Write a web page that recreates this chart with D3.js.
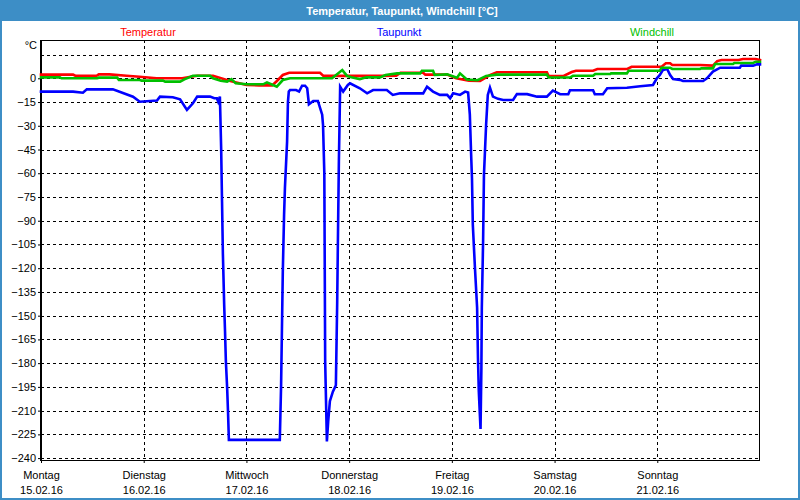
<!DOCTYPE html>
<html>
<head>
<meta charset="utf-8">
<script src="https://cdn.jsdelivr.net/npm/d3@7"></script>
<style>
  html, body { margin: 0; padding: 0; background: #fff; }
  svg { display: block; }
  text { font-family: "Liberation Sans", Arial, sans-serif; }
</style>
</head>
<body>
<svg id="chart" width="800" height="500"></svg>
<script>
// ---------------- data ----------------
const title = "Temperatur, Taupunkt, Windchill [°C]";
const seriesNames = ["Temperatur", "Taupunkt", "Windchill"];
const seriesColors = ["#ff0000", "#0000ff", "#00c000"];
const dayNames = ["Montag", "Dienstag", "Mittwoch", "Donnerstag", "Freitag", "Samstag", "Sonntag"];
const dayDates = ["15.02.16", "16.02.16", "17.02.16", "18.02.16", "19.02.16", "20.02.16", "21.02.16"];
const dayHours = [0, 24, 48, 72, 96, 120, 144];
const yTicks = [0, -15, -30, -45, -60, -75, -90, -105, -120, -135, -150, -165, -180, -195, -210, -225, -240];
const yGrid = [15, 0, -15, -30, -45, -60, -75, -90, -105, -120, -135, -150, -165, -180, -195, -210, -225, -240];

// hours since Monday 15.02.16 00:00
const tempHours = [0, 7.5, 8, 13, 13.5, 16, 20, 23, 27, 33, 35, 36.5, 40.2, 44, 48, 51, 54, 55, 56.5, 58, 65.2, 66, 79, 83, 84, 89.3, 89.8, 94.9, 97, 100, 102.6, 105, 106.5, 118.2, 118.6, 122, 124, 125, 129, 130, 137, 138, 145, 146, 147, 147.5, 154, 157, 158, 159, 163, 164, 167, 168];
const tempValues = [2.3, 2.3, 1.6, 1.6, 2.5, 2.5, 1.6, 1.0, 0, 0, 1.0, 1.6, 1.6, -1.5, -4.2, -4.5, -4.5, -2, 2.1, 3.5, 3.5, 1.5, 1.5, 1.6, 3.5, 3.5, 2.3, 2.3, 0, -1.5, -1.7, 2.1, 3.8, 3.8, 1.6, 1.4, 4.0, 4.8, 4.8, 5.9, 5.9, 7.3, 7.3, 9.5, 9.5, 8.4, 8.4, 8.0, 10.9, 11.6, 11.6, 12.2, 12.2, 11.6];

const dewHours = [0, 7.5, 9.8, 10.7, 16.8, 21.5, 23.1, 27.1, 27.8, 30.8, 32.5, 34.1, 35.5, 36.5, 39.5, 40.5, 41.1, 41.4, 41.8, 42.1, 42.3, 42.5, 42.8, 43.0, 43.2, 43.5, 43.7, 43.9, 55.8, 56.1, 56.3, 56.5, 56.8, 57.0, 57.5, 57.7, 57.9, 58.2, 59.6, 60.3, 61.0, 61.7, 62.2, 62.6, 63.6, 64.7, 65.7, 65.9, 66.2, 66.4, 66.8, 67.1, 67.5, 68.2, 68.9, 69.2, 69.4, 69.6, 69.9, 70.6, 71.7, 72.2, 74.5, 76.2, 77.6, 80.8, 82.2, 83.9, 89.3, 90.2, 91.6, 93.2, 94.9, 95.6, 96.3, 97.9, 99.1, 99.8, 100.2, 100.5, 100.7, 100.9, 101.4, 101.9, 102.1, 102.3, 102.7, 102.9, 103.0, 103.3, 103.5, 104.0, 104.4, 104.9, 105.6, 106.8, 108.0, 110.3, 111.2, 113.6, 115.9, 118.2, 119.6, 121.3, 123.2, 123.6, 129.0, 129.4, 131.3, 132.3, 136.9, 140, 143, 143.9, 144.6, 145.3, 146.3, 147.0, 147.7, 149.3, 150.0, 154.7, 155.6, 157.0, 158.7, 163.3, 163.6, 166.4, 167.3, 168];
const dewValues = [-8.4, -8.4, -9.1, -7.0, -7.0, -11.6, -14.8, -14.1, -11.6, -12.0, -13.3, -20, -15.8, -11.6, -11.6, -12.6, -12.6, -14.8, -11.6, -45, -78, -111, -143, -160, -179, -196, -211, -228.5, -228.5, -194, -158, -122, -86, -69, -40, -15, -8.4, -7.4, -7.4, -8.4, -4.7, -4.7, -6.3, -16.4, -14.3, -14.3, -23, -29.5, -60, -179, -229.5, -217, -204, -198, -194, -143, -97, -52.7, -5.3, -8.4, -4.2, -3.2, -6.3, -9.5, -7.4, -7.4, -10.5, -9.5, -9.5, -5.3, -8.4, -10.5, -10.5, -12.6, -9.5, -10.5, -8.4, -9, -23, -48, -63, -92.6, -120, -145, -176.6, -198, -221.6, -183, -145, -103, -61, -29.5, -10.5, -5.9, -11.6, -13, -13.7, -13.7, -10, -10, -11.6, -11.6, -7.8, -10.1, -10.1, -7.6, -7.6, -10.1, -10.1, -6.3, -6.0, -5.0, -4.2, 0, 2.1, 5.2, 5.9, 2.1, -0.4, -1.0, -1.7, -1.7, 0, 4.2, 6.7, 6.7, 8, 8, 8.8, 8.8];

const chillHours = [0, 4.4, 4.8, 13.1, 13.5, 17.8, 18.2, 23.1, 23.5, 28.5, 29, 32.5, 33.5, 35.5, 39.5, 40.2, 42, 43.5, 44.5, 45.5, 48.1, 51.9, 52.8, 54.2, 55.1, 56.5, 58.2, 68, 70.4, 71.5, 72.5, 74.5, 76, 79.2, 80.5, 83.2, 88.6, 89, 91.6, 92, 94.9, 97.2, 97.9, 99.5, 102, 104, 106.5, 118.2, 118.6, 123.6, 124.3, 129, 129.5, 133, 133.2, 136.9, 137.3, 144.6, 145, 147, 147.5, 154, 154.3, 157, 157.5, 161.7, 162, 166.4, 167, 168];
const chillValues = [0.6, 0.6, 0, 0, 0.4, 0.4, -1.1, -1.1, -1.5, -1.5, -2.1, -2.1, -0.7, 1.6, 1.6, 0, -1.5, -2.1, -0.5, -3.2, -3.8, -3.8, -2.6, -4.2, -5.3, -1.1, 0, 0, 5.2, 1.5, 0.6, -0.5, 0.6, 0.6, 2.1, 3.1, 3.1, 4.8, 4.8, 2.1, 2.5, 0.4, 3.1, -0.8, -1.2, 1.5, 2.3, 2.3, 0.6, 0.5, 1.6, 1.6, 2.7, 2.7, 3.1, 3.1, 4.8, 4.8, 6.7, 6.7, 5.9, 5.9, 6.3, 6.3, 9.0, 9.0, 9.7, 9.7, 10.5, 10.5];

// ---------------- drawing ----------------
(function () {
const W = 800, H = 500;
const svg = d3.select("#chart");
const frameColor = "#3d8ec6";

svg.append("rect").attr("x", 0).attr("y", 0).attr("width", W).attr("height", H).attr("fill", "#ffffff");
svg.append("rect").attr("x", 1).attr("y", 1).attr("width", W - 2).attr("height", H - 2)
   .attr("fill", "none").attr("stroke", frameColor).attr("stroke-width", 2);
svg.append("rect").attr("x", 0).attr("y", 0).attr("width", W).attr("height", 21).attr("fill", frameColor);
svg.append("text").attr("x", 402).attr("y", 14.5).attr("text-anchor", "middle")
   .attr("fill", "#ffffff").attr("font-weight", "bold").attr("font-size", "11px").text(title);

const pL = 41, pR = 760, pT = 40, pB = 460;
const x = d3.scaleLinear().domain([0, 168]).range([pL, pR]);
const y = d3.scaleLinear().domain([-241.2, 24.2]).range([pB, pT]);

// legend
const legendX = [148, 399, 652];
seriesNames.forEach((n, i) => {
  svg.append("text").attr("x", legendX[i]).attr("y", 36).attr("text-anchor", "middle")
     .attr("font-size", "11px").attr("fill", seriesColors[i]).text(n);
});

// grid
const grid = svg.append("g").attr("stroke", "#000").attr("stroke-width", 1).attr("stroke-dasharray", "3,3");
grid.selectAll("line.h").data(yGrid).join("line").attr("class", "h")
  .attr("x1", pL).attr("x2", pR)
  .attr("y1", d => Math.round(y(d)) + 0.5).attr("y2", d => Math.round(y(d)) + 0.5);
grid.selectAll("line.v").data(dayHours.slice(1)).join("line").attr("class", "v")
  .attr("y1", pT).attr("y2", pB)
  .attr("x1", d => Math.round(x(d)) + 0.5).attr("x2", d => Math.round(x(d)) + 0.5);

// y axis
const yAxis = d3.axisLeft(y).tickValues(yTicks).tickSize(3).tickPadding(2).tickFormat(d3.format("d"));
const gy = svg.append("g").attr("transform", `translate(${pL},0)`).call(yAxis);
gy.select(".domain").remove();
gy.selectAll("text").attr("font-size", "11px").attr("fill", "#000").attr("font-family", "Liberation Sans, Arial, sans-serif");
gy.selectAll("line").attr("stroke", "#000");
svg.append("text").attr("x", 37).attr("y", 49).attr("text-anchor", "end").attr("font-size", "11px").text("°C");

// x axis
const xAxis = d3.axisBottom(x).tickValues(dayHours).tickSize(3).tickFormat(() => "");
const gx = svg.append("g").attr("transform", `translate(0,${pB})`).call(xAxis);
gx.select(".domain").remove();
gx.selectAll("line").attr("stroke", "#000");
gx.selectAll(".tick").each(function (d, i) {
  const t = d3.select(this);
  t.append("text").attr("y", 19).attr("fill", "#000").attr("font-size", "11px")
    .attr("font-family", "Liberation Sans, Arial, sans-serif").attr("text-anchor", "middle").text(dayNames[i]);
  t.append("text").attr("y", 34).attr("fill", "#000").attr("font-size", "11px")
    .attr("font-family", "Liberation Sans, Arial, sans-serif").attr("text-anchor", "middle").text(dayDates[i]);
});

// plot frame
svg.append("rect").attr("x", pL + 0.5).attr("y", pT + 0.5).attr("width", pR - pL - 1).attr("height", pB - pT)
   .attr("fill", "none").attr("stroke", "#000").attr("stroke-width", 1);
svg.append("line").attr("x1", pL - 0.5).attr("x2", pL - 0.5).attr("y1", pT).attr("y2", pB + 1).attr("stroke", "#000").attr("stroke-width", 1);
svg.append("line").attr("x1", pL - 1).attr("x2", pR).attr("y1", pB + 0.5).attr("y2", pB + 0.5).attr("stroke", "#000").attr("stroke-width", 1);

// series
const line = d3.line().x(d => x(d[0])).y(d => y(d[1]));
const series = [
  d3.zip(tempHours, tempValues),
  d3.zip(dewHours, dewValues),
  d3.zip(chillHours, chillValues)
];
const plot = svg.append("g");
series.forEach((s, i) => {
  plot.append("path").datum(s).attr("d", line)
    .attr("fill", "none").attr("stroke", seriesColors[i]).attr("stroke-width", 2.6)
    .attr("stroke-linejoin", "miter").attr("stroke-linecap", "square");
});
})();
</script>
</body>
</html>
